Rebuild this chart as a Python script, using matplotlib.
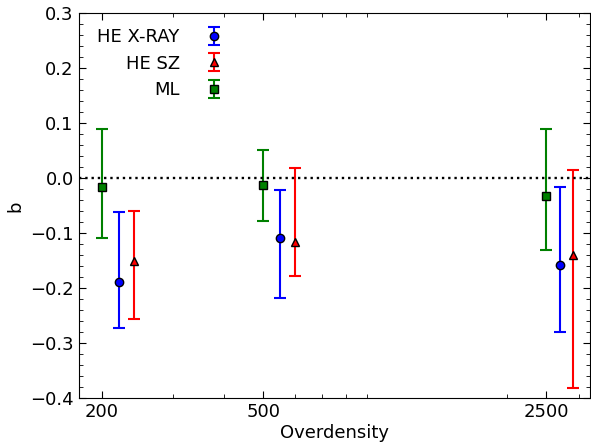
import numpy as np
import matplotlib
matplotlib.use("Agg")
import matplotlib.pyplot as plt
from matplotlib.ticker import MultipleLocator, LogLocator, NullFormatter

# values
x_xray = [220, 550, 2700]
b_xray = [-0.188, -0.109, -0.158]
lo_xray = [-0.273, -0.218, -0.279]
hi_xray = [-0.062, -0.021, -0.016]

x_sz = [240, 600, 2900]
b_sz = [-0.150, -0.115, -0.140]
lo_sz = [-0.256, -0.177, -0.381]
hi_sz = [-0.059, 0.019, 0.015]

x_ml = [200, 500, 2500]
b_ml = [-0.015, -0.013, -0.033]
lo_ml = [-0.109, -0.078, -0.130]
hi_ml = [0.089, 0.052, 0.089]

xtick_vals = [200, 500, 2500]
xtick_labels = ["200", "500", "2500"]

plt.rcParams["font.size"] = 13

fig = plt.figure(figsize=(5.91, 4.45), dpi=100)
ax = fig.add_axes([0.133, 0.105, 0.866, 0.865])


def err(b, lo, hi):
    b = np.array(b)
    return [b - np.array(lo), np.array(hi) - b]


ax.errorbar(x_xray, b_xray, yerr=err(b_xray, lo_xray, hi_xray), fmt="o",
            color="blue", ecolor="blue", mec="k", ms=6, elinewidth=1.5,
            capsize=4, capthick=1.5, label="HE X-RAY")
ax.errorbar(x_sz, b_sz, yerr=err(b_sz, lo_sz, hi_sz), fmt="^",
            color="red", ecolor="red", mec="k", ms=6, elinewidth=1.5,
            capsize=4, capthick=1.5, label="HE SZ")
ax.errorbar(x_ml, b_ml, yerr=err(b_ml, lo_ml, hi_ml), fmt="s",
            color="green", ecolor="green", mec="k", ms=5.5, elinewidth=1.5,
            capsize=4, capthick=1.5, label="ML")

ax.axhline(0.0, color="k", linestyle=":", linewidth=1.7)

ax.set_xscale("log")
ax.set_xlim(175, 3210)
ax.set_ylim(-0.4, 0.3)
ax.set_xticks(xtick_vals)
ax.set_xticklabels(xtick_labels)
ax.xaxis.set_minor_locator(LogLocator(base=10, subs=np.arange(2, 10)))
ax.xaxis.set_minor_formatter(NullFormatter())
ax.yaxis.set_major_locator(MultipleLocator(0.1))
ax.yaxis.set_minor_locator(MultipleLocator(0.02))

ax.tick_params(which="both", direction="in", top=True, right=True)
ax.tick_params(which="major", length=5, labelsize=13)
ax.tick_params(which="minor", length=3)

ax.set_xlabel("Overdensity", fontsize=13, labelpad=2)
ax.set_ylabel("b", fontsize=13)

ax.legend(loc="upper left", bbox_to_anchor=(0.012, 0.995), frameon=False,
          markerfirst=False, fontsize=13, handlelength=1.2,
          handletextpad=1.3, labelspacing=0.48, borderaxespad=0.3)

fig.savefig("out.png", dpi=100)
